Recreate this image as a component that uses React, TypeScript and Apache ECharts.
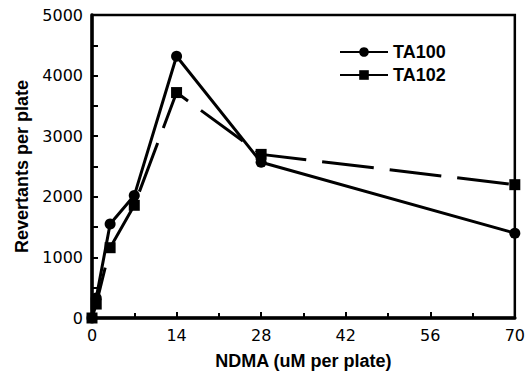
import React, { useEffect, useRef } from "react";
import * as echarts from "echarts";

const doses = [0, 0.7, 3, 7, 14, 28, 70];
const ta100 = [0, 330, 1550, 2020, 4320, 2570, 1400];
const ta102 = [0, 230, 1160, 1860, 3720, 2700, 2200];
const seriesNames = ["TA100", "TA102"];
const xTitle = "NDMA (uM per plate)";
const yTitle = "Revertants per plate";

export default function App() {
  const ref = useRef<HTMLDivElement>(null);
  useEffect(() => {
    if (!ref.current) return;
    const chart = echarts.init(ref.current, null, { renderer: "svg" });
    const pair = (ys: number[]) => doses.map((d, i) => [d, ys[i]]);
    chart.setOption({
      animation: false,
      backgroundColor: "#fff",
      grid: {
        left: 92,
        right: 10,
        top: 15,
        bottom: 61,
        show: true,
        borderColor: "#000",
        borderWidth: 2.5,
      },
      legend: {
        orient: "vertical",
        left: 334,
        top: 38,
        itemWidth: 48,
        itemHeight: 12,
        itemGap: 5,
        textStyle: { fontFamily: "Liberation Sans", fontWeight: "bold", fontSize: 18, color: "#000" },
        data: [
          { name: seriesNames[0], lineStyle: { type: "solid" } },
          { name: seriesNames[1], lineStyle: { type: "solid" } },
        ],
      },
      xAxis: {
        type: "value",
        min: 0,
        max: 70,
        interval: 14,
        name: xTitle,
        nameLocation: "middle",
        nameGap: 34,
        nameTextStyle: { fontFamily: "Liberation Sans", fontWeight: "bold", fontSize: 18, color: "#000" },
        axisLine: { lineStyle: { color: "#000", width: 3.5 } },
        axisTick: { inside: true, length: 6, lineStyle: { color: "#000", width: 2 } },
        minorTick: { show: true, splitNumber: 2, length: 5, lineStyle: { color: "#000", width: 2 } },
        axisLabel: { fontFamily: "DejaVu Sans", fontSize: 16, color: "#000", margin: 9, formatter: (v: number) => String(v) },
        splitLine: { show: false },
      },
      yAxis: {
        type: "value",
        min: 0,
        max: 5000,
        interval: 1000,
        name: yTitle,
        nameLocation: "middle",
        nameGap: 56,
        nameTextStyle: { fontFamily: "Liberation Sans", fontWeight: "bold", fontSize: 18, color: "#000" },
        axisLine: { lineStyle: { color: "#000", width: 3.5 } },
        axisTick: { inside: true, length: 6, lineStyle: { color: "#000", width: 2 } },
        minorTick: { show: true, splitNumber: 2, length: 6, lineStyle: { color: "#000", width: 2 } },
        axisLabel: { fontFamily: "DejaVu Sans", fontSize: 16, color: "#000", margin: 9, formatter: (v: number) => String(v) },
        splitLine: { show: false },
      },
      series: [
        {
          name: seriesNames[0],
          type: "line",
          data: pair(ta100),
          symbol: "circle",
          symbolSize: 11,
          itemStyle: { color: "#000" },
          lineStyle: { color: "#000", width: 3 },
          clip: false,
        },
        {
          name: seriesNames[1],
          type: "line",
          data: pair(ta102),
          symbol: "rect",
          symbolSize: 11,
          itemStyle: { color: "#000" },
          lineStyle: { color: "#000", width: 3, type: [52, 16] },
          clip: false,
        },
      ],
    });
    return () => chart.dispose();
  }, []);
  return <div ref={ref} style={{ width: 528, height: 379, position: "absolute", left: 0, top: 0 }} />;
}
